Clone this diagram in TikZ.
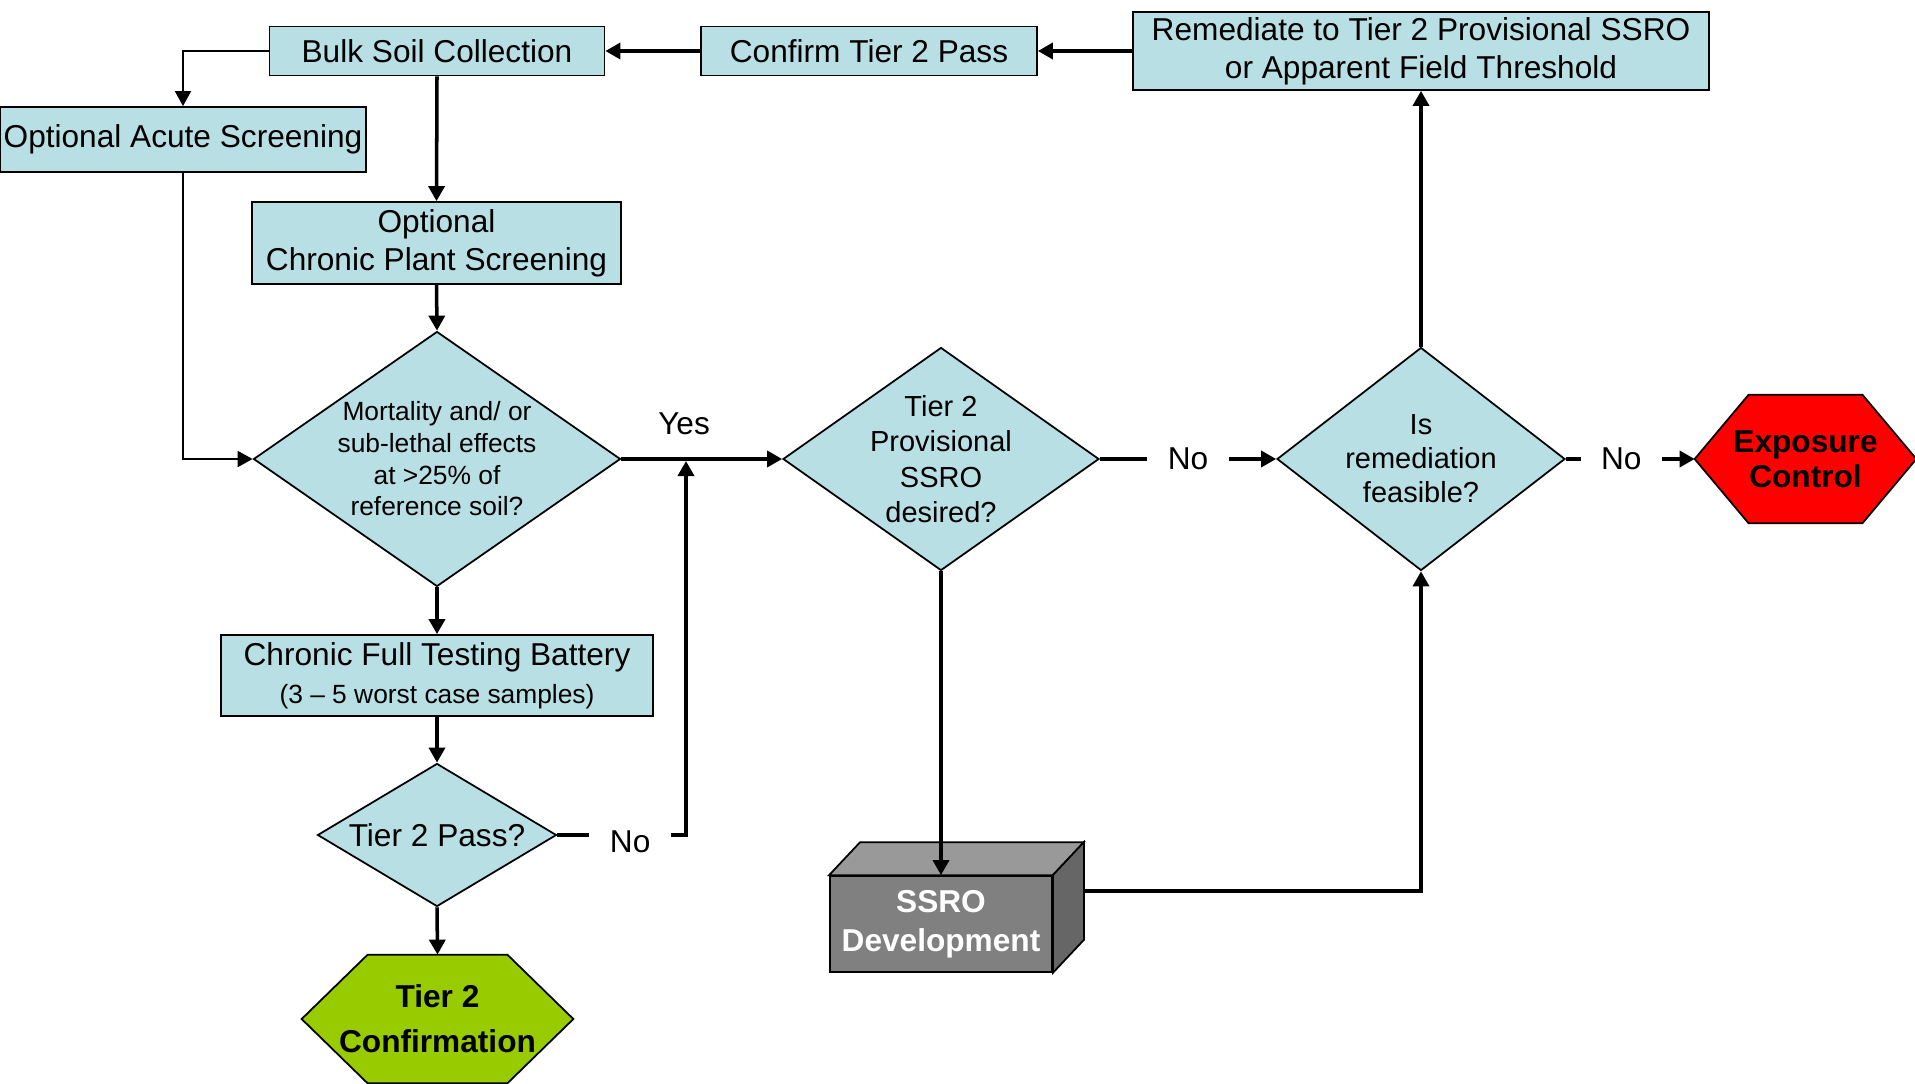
\documentclass[tikz,border=0pt]{standalone}
\usepackage{fontspec}
\setmainfont{Liberation Sans}
\usetikzlibrary{arrows.meta, positioning, shapes.geometric, backgrounds}

\definecolor{boxblue}{RGB}{184,224,228}
\definecolor{passgreen}{RGB}{153,204,0}
\definecolor{stopred}{RGB}{255,0,0}
\definecolor{cubefront}{RGB}{128,128,128}
\definecolor{cubetop}{RGB}{153,153,153}
\definecolor{cubeside}{RGB}{102,102,102}

\begin{document}
\begin{tikzpicture}[
  box/.style={draw, line width=1pt, fill=boxblue, align=center, inner sep=0pt, font=\fontsize{18}{21.6}\selectfont},
  dia/.style={diamond, draw, line width=1pt, fill=boxblue, align=center, inner sep=-0.3cm},
  flow/.style={line width=2pt, -{Triangle[length=0.3cm,width=0.32cm]}},
  thinflow/.style={line width=1pt, -{Triangle[length=0.3cm,width=0.32cm]}},
  lbl/.style={fill=white, inner xsep=0.41cm, inner ysep=0pt, font=\fontsize{18}{21.6}\selectfont}
]
\useasboundingbox (0,0) rectangle (38.3,-21.68);
% Top row
\node[box, minimum width=6.7cm, minimum height=0.98cm] (bulk) at (8.74,-1.02) {Bulk Soil Collection};
\node[box, minimum width=6.72cm, minimum height=0.98cm] (confirm) at (17.38,-1.02) {Confirm Tier 2 Pass};
\node[box, minimum width=11.52cm, minimum height=1.56cm] (remed) at (28.42,-1.02) {Remediate to Tier 2 Provisional SSRO\\or Apparent Field Threshold};
% Screening
\node[box, minimum width=7.32cm, minimum height=1.3cm] (acute) at (3.66,-2.79) {Optional Acute Screening};
\node[box, minimum width=7.38cm, minimum height=1.64cm] (plant) at (8.73,-4.86) {Optional\\Chronic Plant Screening};
% Decisions
\node[dia, minimum width=7.34cm, minimum height=5.1cm, font=\fontsize{15}{18}\selectfont] (effects) at (8.74,-9.18) {Mortality and/ or\\sub-lethal effects\\at >25\% of\\reference soil?};
\node[dia, minimum width=6.32cm, minimum height=4.46cm, font=\fontsize{16.5}{20.2}\selectfont] (desired) at (18.82,-9.18) {Tier 2\\Provisional\\SSRO\\desired?};
\node[dia, minimum width=5.76cm, minimum height=4.46cm, font=\fontsize{16.5}{19.3}\selectfont] (feasible) at (28.42,-9.18) {Is\\remediation\\feasible?};
\node[box, minimum width=8.64cm, minimum height=1.62cm] (battery) at (8.74,-13.51) {Chronic Full Testing Battery\\{\fontsize{15}{18}\selectfont(3 – 5 worst case samples)}};
\node[dia, minimum width=4.78cm, minimum height=2.86cm, font=\fontsize{18}{21.6}\selectfont] (pass) at (8.74,-16.7) {Tier 2 Pass?};
% End points
\node[minimum width=5.42cm, minimum height=2.56cm, align=center, font=\fontsize{18}{25.5}\selectfont\bfseries] (confirmation) at (8.75,-20.38) {Tier 2\\Confirmation};
\node[minimum width=4.42cm, minimum height=2.56cm, align=center, font=\fontsize{18}{20}\selectfont\bfseries] (exposure) at (36.11,-9.18) {Exposure\\Control};
\node[draw, line width=1pt, fill=cubefront, text=white, minimum width=4.44cm, minimum height=1.92cm, align=center, font=\fontsize{18}{22}\selectfont\bfseries] (ssro) at (18.82,-18.48) {SSRO\\Development};
\draw[line width=1pt, fill=cubetop] (ssro.north west) -- ++(0.62,0.66) -- ([shift={(0.62,0.66)}]ssro.north east) -- (ssro.north east) -- cycle;
\draw[line width=1pt, fill=cubeside] (ssro.north east) -- ++(0.62,0.66) -- ([shift={(0.62,0.66)}]ssro.south east) -- (ssro.south east) -- cycle;
\begin{scope}[on background layer]
\foreach \n/\c/\d in {confirmation/passgreen/1.32, exposure/stopred/1.08}
  \draw[line width=1pt, fill=\c] (\n.west) -- ([xshift=\d cm]\n.north west) -- ([xshift=-\d cm]\n.north east) -- (\n.east) -- ([xshift=-\d cm]\n.south east) -- ([xshift=\d cm]\n.south west) -- cycle;
\end{scope}
\coordinate (yj) at (13.72,-9.22);
% Links
\draw[flow] (remed.west) -- (confirm.east);
\draw[flow] (confirm.west) -- (bulk.east);
\draw[thinflow] (bulk.west) -| (acute.north);
\draw[flow] (bulk.south) -- (plant.north);
\draw[thinflow] (acute.south) |- (effects.west);
\draw[flow] (plant.south) -- (effects.north);
\draw[flow] (effects.east) -- node[pos=0.39, above=0.45cm, inner sep=0pt, font=\fontsize{18}{21.6}\selectfont] {Yes} (desired.west);
\draw[flow] (effects.south) -- (battery.north);
\draw[flow] (battery.south) -- (pass.north);
\draw[flow] (pass.south) -- (confirmation.north);
\draw[flow] (pass.east) -- node[lbl, pos=0.566, yshift=-0.14cm] {No} (pass.east -| yj) -- (yj);
\draw[flow] (desired.east) -- node[lbl] {No} (feasible.west);
\draw[flow] (feasible.east) -- node[lbl, pos=0.43] {No} (exposure.west);
\draw[flow] (desired.south) -- (ssro.north);
\draw[flow] ([shift={(0.62,0.66)}]ssro.east) -| (feasible.south);
\draw[flow] (feasible.north) -- (remed.south);
\end{tikzpicture}
\end{document}
